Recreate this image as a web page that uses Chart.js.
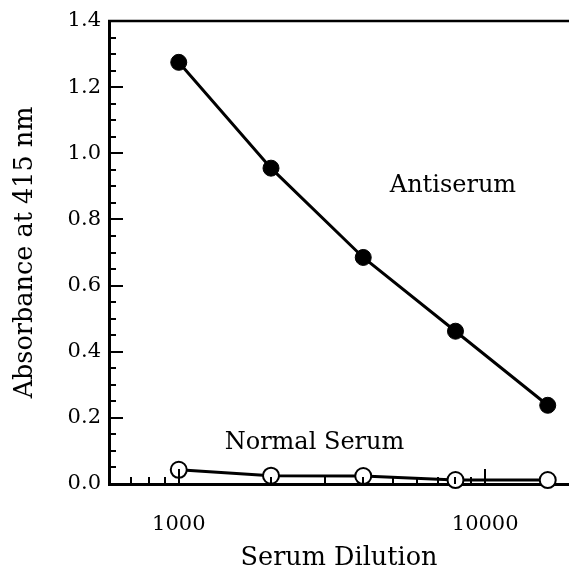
<!DOCTYPE html>
<html>
<head>
<meta charset="utf-8">
<script src="https://cdn.jsdelivr.net/npm/chart.js@4.4.1/dist/chart.umd.min.js"></script>
<style>
  html, body { margin: 0; padding: 0; background: #fff; }
  #wrap { width: 569px; height: 574px; }
</style>
</head>
<body>
<div id="wrap"><canvas id="c" width="569" height="574"></canvas></div>
<script>
// ---- data ----
const dilutions = [1000, 2000, 4000, 8000, 16000];
const antiserum = [1.275, 0.955, 0.685, 0.462, 0.238];
const normalSerum = [0.043, 0.025, 0.024, 0.012, 0.012];

// ---- ticks ----
const xMajorTicks = [1000, 10000];
const xMinorTicks = [700, 800, 900, 2000, 3000, 4000, 5000, 6000, 7000, 8000, 9000];
const yMajorTicks = [0.0, 0.2, 0.4, 0.6, 0.8, 1.0, 1.2, 1.4];
const yMinorTicks = [0.05, 0.1, 0.15, 0.25, 0.3, 0.35, 0.45, 0.5, 0.55, 0.65, 0.7, 0.75,
                     0.85, 0.9, 0.95, 1.05, 1.1, 1.15, 1.25, 1.3, 1.35];

// ---- text labels ----
const seriesLabels = ['Antiserum', 'Normal Serum'];
const labelPositions = [{ x: 7850, y: 0.903 }, { x: 2773, y: 0.126 }];

const FONT = "'DejaVu Serif', serif";

const innerTicks = {
  id: 'innerTicks',
  afterDraw(chart) {
    const ctx = chart.ctx;
    const xs = chart.scales.x, ys = chart.scales.y;
    const a = chart.chartArea;
    ctx.save();
    ctx.strokeStyle = '#000';
    ctx.lineWidth = 2.5;
    ctx.lineCap = 'butt';
    // top border
    ctx.beginPath();
    ctx.moveTo(a.left - 1, a.top);
    ctx.lineTo(a.right + 2, a.top);
    ctx.stroke();
    ctx.lineWidth = 2;
    // y ticks
    const yt = (v, len) => {
      const p = Math.round(ys.getPixelForValue(v));
      ctx.beginPath(); ctx.moveTo(a.left, p); ctx.lineTo(a.left + len, p); ctx.stroke();
    };
    yMajorTicks.forEach(v => yt(v, 14));
    yMinorTicks.forEach(v => yt(v, 7));
    // x ticks
    const xt = (v, len) => {
      const p = Math.round(xs.getPixelForValue(v));
      ctx.beginPath(); ctx.moveTo(p, a.bottom); ctx.lineTo(p, a.bottom - len); ctx.stroke();
    };
    xMajorTicks.forEach(v => xt(v, 15));
    xMinorTicks.forEach(v => xt(v, 7));
    // series labels
    ctx.fillStyle = '#000';
    ctx.font = "24px " + FONT;
    ctx.textAlign = 'center';
    ctx.textBaseline = 'middle';
    seriesLabels.forEach((t, i) => {
      ctx.fillText(t, xs.getPixelForValue(labelPositions[i].x), ys.getPixelForValue(labelPositions[i].y));
    });
    ctx.restore();
  }
};

new Chart(document.getElementById('c'), {
  type: 'line',
  data: {
    datasets: [
      {
        label: 'Antiserum',
        data: dilutions.map((d, i) => ({ x: d, y: antiserum[i] })),
        borderColor: '#000',
        borderWidth: 3,
        pointRadius: 8,
        pointBackgroundColor: '#000',
        pointBorderColor: '#000',
        pointBorderWidth: 1,
        tension: 0,
        clip: false
      },
      {
        label: 'Normal Serum',
        data: dilutions.map((d, i) => ({ x: d, y: normalSerum[i] })),
        borderColor: '#000',
        borderWidth: 3,
        pointRadius: 8,
        pointBackgroundColor: '#fff',
        pointBorderColor: '#000',
        pointBorderWidth: 2,
        tension: 0,
        clip: false
      }
    ]
  },
  options: {
    responsive: false,
    animation: false,
    devicePixelRatio: 1,
    layout: { autoPadding: false, padding: { left: 0, right: 0, top: 21, bottom: 0 } },
    plugins: { legend: { display: false }, tooltip: { enabled: false } },
    scales: {
      x: {
        type: 'logarithmic',
        min: 592,
        max: 18773,
        afterBuildTicks: s => { s.ticks = xMajorTicks.map(v => ({ value: v, major: true })); },
        afterFit: s => { s.height = 90; s.paddingRight = 0; s.paddingLeft = 0; },
        grid: { display: false, drawTicks: false },
        border: { display: true, color: '#000', width: 3 },
        ticks: {
          color: '#000',
          font: { family: FONT, size: 21 },
          padding: 28,
          maxRotation: 0,
          autoSkip: false,
          callback: v => String(v)
        },
        title: {
          display: true,
          text: 'Serum Dilution',
          color: '#000',
          font: { family: FONT, size: 25.5 },
          padding: { top: 0, bottom: 0 }
        }
      },
      y: {
        min: 0,
        max: 1.4,
        afterBuildTicks: s => { s.ticks = yMajorTicks.map(v => ({ value: v })); },
        afterFit: s => { s.width = 109; },
        grid: { display: false, drawTicks: false },
        border: { display: true, color: '#000', width: 3 },
        ticks: {
          color: '#000',
          font: { family: FONT, size: 21 },
          padding: 8,
          callback: v => Number(v).toFixed(1)
        },
        title: {
          display: true,
          text: 'Absorbance at 415 nm',
          color: '#000',
          font: { family: FONT, size: 25.5 },
          padding: { top: 10, bottom: 0 }
        }
      }
    }
  },
  plugins: [innerTicks]
});
</script>
</body>
</html>
